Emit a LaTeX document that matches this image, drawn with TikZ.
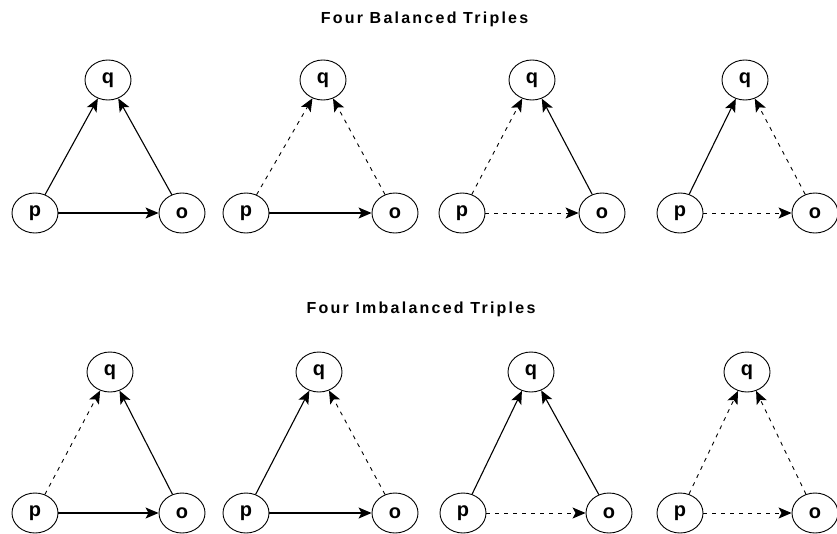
\documentclass[tikz,border=0pt]{standalone}
\usepackage{fontspec}
\setmainfont{Liberation Sans}
\newfontfamily\titlefont[LetterSpace=14]{Liberation Sans}
\usetikzlibrary{arrows.meta,shapes.geometric}
\tikzset{
  vert/.style={draw, ellipse, minimum width=46pt, minimum height=40pt, inner sep=0pt, line width=0.9pt, font=\fontsize{20pt}{20pt}\selectfont\bfseries},
  solidedge/.style={line width=1.1pt, -{Stealth[length=13pt,width=11pt,inset=3pt]}},
  dashedge/.style={line width=0.9pt, dash pattern=on 4pt off 5pt, -{Stealth[length=13pt,width=11pt,inset=3pt]}},
  ttl/.style={anchor=base, font=\fontsize{16pt}{16pt}\titlefont\bfseries}
}
\begin{document}
\begin{tikzpicture}[x=1pt,y=-1pt]
\useasboundingbox (0,0) rectangle (837,533);
\node[ttl] (t1) at (424.5,23) {Four Balanced Triples};
\node[ttl] (t2) at (421,313) {Four Imbalanced Triples};
% top row
\node[vert] (q1) at (108,80) {q};
\node[vert] (p1) at (35,213) {p};
\node[vert] (o1) at (182,213) {o};
\node[vert] (q2) at (323,80) {q};
\node[vert] (p2) at (246,213) {p};
\node[vert] (o2) at (395,213) {o};
\node[vert] (q3) at (532,80) {q};
\node[vert] (p3) at (462,213) {p};
\node[vert] (o3) at (602,213) {o};
\node[vert] (q4) at (745,80) {q};
\node[vert] (p4) at (680,213) {p};
\node[vert] (o4) at (815,213) {o};
% bottom row
\node[vert] (q5) at (110,372) {q};
\node[vert] (p5) at (35,513) {p};
\node[vert] (o5) at (182,513) {o};
\node[vert] (q6) at (319,372) {q};
\node[vert] (p6) at (246,513) {p};
\node[vert] (o6) at (395,513) {o};
\node[vert] (q7) at (531,372) {q};
\node[vert] (p7) at (463,513) {p};
\node[vert] (o7) at (609,513) {o};
\node[vert] (q8) at (747,372) {q};
\node[vert] (p8) at (680,513) {p};
\node[vert] (o8) at (815,513) {o};
% edges top
\draw[solidedge] (p1) -- (q1);
\draw[solidedge] (o1) -- (q1);
\draw[solidedge] (p1) -- (o1);
\draw[dashedge] (p2) -- (q2);
\draw[dashedge] (o2) -- (q2);
\draw[solidedge] (p2) -- (o2);
\draw[dashedge] (p3) -- (q3);
\draw[solidedge] (o3) -- (q3);
\draw[dashedge] (p3) -- (o3);
\draw[solidedge] (p4) -- (q4);
\draw[dashedge] (o4) -- (q4);
\draw[dashedge] (p4) -- (o4);
% edges bottom
\draw[dashedge] (p5) -- (q5);
\draw[solidedge] (o5) -- (q5);
\draw[solidedge] (p5) -- (o5);
\draw[solidedge] (p6) -- (q6);
\draw[dashedge] (o6) -- (q6);
\draw[solidedge] (p6) -- (o6);
\draw[solidedge] (p7) -- (q7);
\draw[solidedge] (o7) -- (q7);
\draw[dashedge] (p7) -- (o7);
\draw[dashedge] (p8) -- (q8);
\draw[dashedge] (o8) -- (q8);
\draw[dashedge] (p8) -- (o8);
\end{tikzpicture}
\end{document}
